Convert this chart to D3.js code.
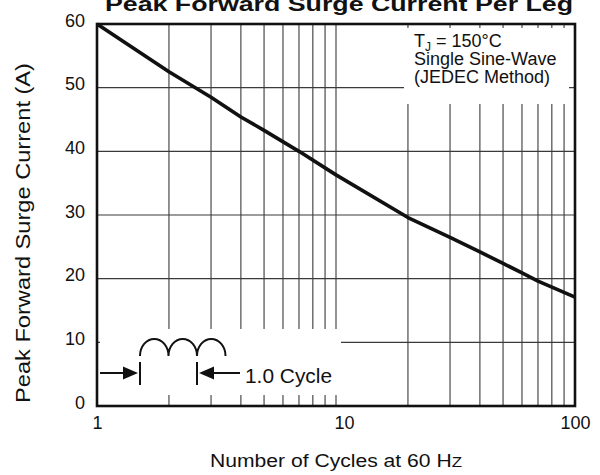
<!DOCTYPE html>
<html>
<head>
<meta charset="utf-8">
<script src="https://cdn.jsdelivr.net/npm/d3@7"></script>
<style>
  body { margin: 0; background: #fff; }
  text { font-family: Arial, "Liberation Sans", sans-serif; fill: #111; }
</style>
</head>
<body>
<script>
var w = 600;
var h = 475;

// curve
var cycles = [1, 2, 3, 4, 5, 7, 10, 20, 30, 40, 50, 60, 70, 100];
var current = [60, 52.5, 48.5, 45.4, 43.3, 40, 36.3, 29.6, 26.5, 24.2, 22.4, 20.9, 19.6, 17.1];

var yTicks = [0, 10, 20, 30, 40, 50, 60];
var xTicks = [1, 10, 100];
var xGrid = [2, 3, 4, 5, 6, 7, 8, 9, 10, 20, 30, 40, 50, 60, 70, 80, 90];
var yGrid = [10, 20, 30, 40, 50];

var noteLines = ["Single Sine-Wave", "(JEDEC Method)"];

var plotL = 97, plotR = 575, plotT = 24, plotB = 406;

var xScale = d3.scaleLog()
    .domain([1, 100])
    .range([plotL, plotR]);

var yScale = d3.scaleLinear()
    .domain([0, 60])
    .range([plotB, plotT]);

var svg = d3.select("body")
    .append("svg")
    .attr("width", w)
    .attr("height", h);

// grid
svg.selectAll("line.vgrid")
    .data(xGrid)
    .enter()
    .append("line")
    .attr("class", "vgrid")
    .attr("x1", function(d) { return xScale(d); })
    .attr("x2", function(d) { return xScale(d); })
    .attr("y1", plotT)
    .attr("y2", plotB)
    .attr("stroke", "#3a3a3a")
    .attr("stroke-width", 1.1);

svg.selectAll("line.hgrid")
    .data(yGrid)
    .enter()
    .append("line")
    .attr("class", "hgrid")
    .attr("x1", plotL)
    .attr("x2", plotR)
    .attr("y1", function(d) { return yScale(d); })
    .attr("y2", function(d) { return yScale(d); })
    .attr("stroke", "#3a3a3a")
    .attr("stroke-width", 1.1);

// white panels behind the notes
svg.append("rect")
    .attr("x", 404).attr("y", 28)
    .attr("width", 165).attr("height", 76)
    .attr("fill", "#fff");

svg.append("rect")
    .attr("x", 100).attr("y", 329)
    .attr("width", 241).attr("height", 66)
    .attr("fill", "#fff");

// frame
svg.append("rect")
    .attr("x", plotL).attr("y", plotT)
    .attr("width", plotR - plotL).attr("height", plotB - plotT)
    .attr("fill", "none")
    .attr("stroke", "#111")
    .attr("stroke-width", 2.6);

// curve
var line = d3.line()
    .x(function(d, i) { return xScale(cycles[i]); })
    .y(function(d) { return yScale(d); });

svg.append("path")
    .datum(current)
    .attr("d", line)
    .attr("fill", "none")
    .attr("stroke", "#111")
    .attr("stroke-width", 3.6)
    .attr("stroke-linejoin", "round");

// axes
var yAxis = svg.append("g")
    .attr("transform", "translate(" + plotL + ",0)")
    .call(d3.axisLeft(yScale).tickValues(yTicks).tickSize(0).tickPadding(12));
yAxis.select(".domain").remove();
yAxis.selectAll("text")
    .attr("dy", 2)
    .style("font-size", "18px")
    .style("font-family", "Arial, 'Liberation Sans', sans-serif")
    .attr("fill", "#111");

var xAxis = svg.append("g")
    .attr("transform", "translate(0," + plotB + ")")
    .call(d3.axisBottom(xScale).tickValues(xTicks).tickFormat(d3.format("d")).tickSize(0).tickPadding(10));
xAxis.select(".domain").remove();
xAxis.selectAll("text")
    .style("font-size", "18px")
    .style("font-family", "Arial, 'Liberation Sans', sans-serif")
    .attr("fill", "#111")
    .attr("dx", function(d) { return d === 10 ? 8 : 0; });

// titles
svg.append("text")
    .attr("x", 105)
    .attr("y", 10.5)
    .attr("textLength", 468)
    .attr("lengthAdjust", "spacingAndGlyphs")
    .style("font-size", "21px")
    .style("font-weight", "bold")
    .text("Peak Forward Surge Current Per Leg");

svg.append("text")
    .attr("x", 210)
    .attr("y", 467)
    .attr("textLength", 252)
    .attr("lengthAdjust", "spacingAndGlyphs")
    .style("font-size", "17.5px")
    .text("Number of Cycles at 60 H")
    .append("tspan")
    .style("font-size", "14px")
    .text("Z");

svg.append("text")
    .attr("transform", "translate(29.5,403) rotate(-90)")
    .attr("textLength", 340)
    .attr("lengthAdjust", "spacingAndGlyphs")
    .style("font-size", "20px")
    .text("Peak Forward Surge Current (A)");

// conditions note
var tj = svg.append("text")
    .attr("x", 414)
    .attr("y", 47)
    .style("font-size", "18px");
tj.append("tspan").text("T");
tj.append("tspan").attr("dy", 4).style("font-size", "12px").text("J");
tj.append("tspan").attr("dy", -4).text(" = 150°C");

svg.selectAll("text.note")
    .data(noteLines)
    .enter()
    .append("text")
    .attr("class", "note")
    .attr("x", 414)
    .attr("y", function(d, i) { return 65 + i * 18; })
    .style("font-size", "18px")
    .text(function(d) { return d; });

// one-cycle sketch
var sketch = svg.append("g")
    .attr("fill", "none")
    .attr("stroke", "#111")
    .attr("stroke-width", 2);

sketch.append("path")
    .attr("d", "M140,356 A14.2,17 0 0 1 168.5,356 A14.2,17 0 0 1 197,356 A14.2,17 0 0 1 225.5,356");

sketch.append("line").attr("x1", 140).attr("x2", 140).attr("y1", 362).attr("y2", 385);
sketch.append("line").attr("x1", 197).attr("x2", 197).attr("y1", 362).attr("y2", 385);
sketch.append("line").attr("x1", 100).attr("x2", 124).attr("y1", 373).attr("y2", 373);
sketch.append("line").attr("x1", 214).attr("x2", 240).attr("y1", 373).attr("y2", 373);

svg.append("path")
    .attr("d", "M138,373 L123,366.5 L123,379.5 Z")
    .attr("fill", "#111");
svg.append("path")
    .attr("d", "M199,373 L214,366.5 L214,379.5 Z")
    .attr("fill", "#111");

svg.append("text")
    .attr("x", 245)
    .attr("y", 383)
    .attr("textLength", 87)
    .attr("lengthAdjust", "spacingAndGlyphs")
    .style("font-size", "20px")
    .text("1.0 Cycle");
</script>
</body>
</html>
